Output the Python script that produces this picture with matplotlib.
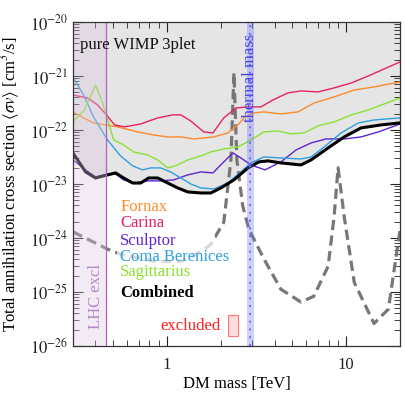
import numpy as np
import matplotlib
matplotlib.use("Agg")
import matplotlib.pyplot as plt
from matplotlib.patches import Rectangle
from matplotlib.ticker import LogLocator, NullFormatter, FixedLocator, FixedFormatter

plt.rcParams['font.family'] = ['Liberation Serif', 'DejaVu Serif']
plt.rcParams['mathtext.fontset'] = 'stix'

# ---------------- data (TeV, cm^3/s) ----------------
comb_m = [0.30, 0.353, 0.401, 0.468, 0.519, 0.575, 0.646, 0.716, 0.793, 0.891, 1.013, 1.152, 1.31,
          1.55, 1.76, 2.0, 2.37, 2.84, 3.26, 3.67, 4.33, 5.6, 6.37, 7.93, 9.75, 12.1, 15.7, 20.0]
comb_sv = [3.75e-23, 1.67e-23, 1.29e-23, 1.47e-23, 1.6e-23, 1.29e-23, 1.04e-23, 1.04e-23, 1.29e-23,
           1.29e-23, 1.04e-23, 8.43e-24, 7.11e-24, 6.8e-24, 6.8e-24, 8.4e-24, 1.19e-23, 1.98e-23,
           2.56e-23, 2.67e-23, 2.45e-23, 2.25e-23, 2.78e-23, 4.64e-23, 7.42e-23, 1.09e-22, 1.24e-22, 1.35e-22]

scl_m = [0.30, 0.353, 0.401, 0.468, 0.519, 0.575, 0.654, 0.783, 0.926, 1.094, 1.31, 1.55, 1.81, 2.0,
         2.34, 2.59, 2.95, 3.53, 4.33, 5.26, 6.37, 7.73, 9.75, 12.1, 15.1, 20.0]
scl_sv = [2.78e-23, 1.82e-23, 1.35e-23, 1.53e-23, 1.53e-23, 1.19e-23, 1.04e-23, 1.14e-23, 1.14e-23,
          1.19e-23, 1.47e-23, 1.67e-23, 1.6e-23, 2.25e-23, 3.75e-23, 3.03e-23, 2.25e-23, 1.82e-23,
          2.56e-23, 4.26e-23, 5.74e-23, 6.81e-23, 6.81e-23, 7.42e-23, 9.18e-23, 1.29e-22]

coma_m = [0.30, 0.344, 0.391, 0.468, 0.553, 0.646, 0.734, 0.814, 0.926, 1.05, 1.2, 1.36, 1.55, 1.83,
          2.19, 2.59, 2.95, 3.48, 4.33, 5.6, 6.37, 7.54, 9.37, 11.7, 14.3, 20.0]
coma_sv = [9.57e-22, 4.45e-22, 1.74e-22, 6.53e-23, 3.3e-23, 2.16e-23, 1.82e-23, 1.98e-23, 1.98e-23,
           1.67e-23, 1.29e-23, 1.0e-23, 8.43e-24, 8.07e-24, 1.04e-23, 1.67e-23, 2.45e-23, 3.16e-23,
           3.03e-23, 2.9e-23, 3.16e-23, 4.84e-23, 8.8e-23, 1.35e-22, 1.53e-22, 1.67e-22]

sgr_m = [0.30, 0.348, 0.401, 0.439, 0.468, 0.506, 0.575, 0.654, 0.783, 0.891, 1.013, 1.152, 1.31, 1.55,
         1.76, 2.08, 2.49, 2.95, 3.48, 4.17, 4.93, 5.82, 6.98, 8.57, 10.7, 13.3, 16.3, 20.0]
sgr_sv = [1.41e-22, 2.35e-22, 6.81e-22, 3.16e-22, 1.6e-22, 6.53e-23, 5.28e-23, 3.91e-23, 3.44e-23,
          2.78e-23, 1.98e-23, 2.25e-23, 2.78e-23, 3.3e-23, 3.91e-23, 4.45e-23, 4.84e-23, 6.53e-23,
          9.18e-23, 9.58e-23, 8.43e-23, 8.8e-23, 1.19e-22, 1.41e-22, 1.9e-22, 2.35e-22, 3.03e-22, 3.91e-22]

fnx_m = [0.30, 0.344, 0.391, 0.456, 0.532, 0.689, 0.846, 1.013, 1.2, 1.42, 1.83, 2.19, 2.49, 2.73,
         3.06, 3.48, 4.33, 5.39, 6.63, 8.57, 11.1, 14.3, 20.0]
fnx_sv = [2.16e-22, 1.67e-22, 1.35e-22, 1.24e-22, 1.14e-22, 9.18e-23, 8.07e-23, 7.42e-23, 7.42e-23,
          6.81e-23, 7.42e-23, 8.8e-23, 1.24e-22, 1.74e-22, 2.06e-22, 2.16e-22, 1.98e-22, 2.16e-22,
          3.16e-22, 4.09e-22, 5.5e-22, 6.26e-22, 7.74e-22]

car_m = [0.30, 0.362, 0.412, 0.462, 0.512, 0.583, 0.716, 0.891, 1.08, 1.2, 1.36, 1.61, 1.81, 2.08,
         2.43, 2.84, 3.35, 3.91, 4.74, 5.6, 6.98, 8.57, 10.7, 13.3, 16.3, 20.0]
car_sv = [4.45e-22, 3.91e-22, 2.9e-22, 1.9e-22, 1.24e-22, 1.14e-22, 1.29e-22, 1.67e-22, 1.9e-22,
          1.9e-22, 1.47e-22, 9.18e-23, 8.8e-23, 1.67e-22, 2.55e-22, 2.67e-22, 2.67e-22, 3.59e-22,
          4.85e-22, 5.28e-22, 5.06e-22, 6.0e-22, 7.42e-22, 1.0e-21, 1.35e-21, 1.82e-21]

th_m = [0.30, 0.468, 0.553, 0.85, 1.2, 1.55, 1.76, 2.08, 2.28, 2.37, 2.46, 2.65, 2.87, 3.48, 4.33,
        5.6, 6.6, 7.94, 8.57, 9.02, 9.75, 11.1, 14.3, 17.2, 20.0]
th_sv = [1.3e-24, 6.2e-25, 5.0e-25, 3.7e-25, 3.7e-25, 5.5e-25, 7.6e-25, 1.95e-24, 2.8e-23, 1.15e-21,
         2.8e-23, 4.0e-24, 1.45e-24, 4.1e-25, 1.12e-25, 6.5e-26, 8.3e-26, 3.0e-25, 2.5e-24, 2.0e-23,
         2.5e-24, 1.5e-25, 2.6e-26, 4.8e-26, 1.45e-24]

lhc_max = 0.46
thermal = (2.8, 3.05)
thermal_c = 2.92

names = ['Fornax', 'Carina', 'Sculptor', 'Coma Berenices', 'Sagittarius']
colors = ['#ff8a2a', '#e8215c', '#5f22d6', '#2f9fdf', '#8ae232']

x_ticks = [1, 10]
x_ticklabels = ['1', '10']
y_exps = [-26, -25, -24, -23, -22, -21, -20]

# ---------------- figure ----------------
fig = plt.figure(figsize=(4.05, 3.99), dpi=100)
ax = fig.add_axes([0.180, 0.133, 0.808, 0.812])
ax.set_xscale('log')
ax.set_yscale('log')
ax.set_xlim(0.3, 20)
ax.set_ylim(1e-26, 1e-20)

ax.fill_between(comb_m, comb_sv, 1e-20, color='#e5e5e5', lw=0, zorder=1)

ax.plot(th_m, th_sv, color='#777777', lw=2.3, dashes=(3.2, 1.7), zorder=2)

ax.add_patch(Rectangle((0.135, 0.14), 0.30, 0.31, transform=ax.transAxes,
                       facecolor='white', alpha=0.7, lw=0, zorder=2.5))

for (m, s, c) in [(fnx_m, fnx_sv, colors[0]), (car_m, car_sv, colors[1]), (scl_m, scl_sv, colors[2]),
                  (coma_m, coma_sv, colors[3]), (sgr_m, sgr_sv, colors[4])]:
    ax.plot(m, s, color=c, lw=1.0, zorder=3)
ax.plot(comb_m, comb_sv, color='black', lw=2.2, zorder=4)

# LHC exclusion
ax.axvspan(0.3, lhc_max, color=(0.866, 0.786, 0.886), alpha=0.35, lw=0, zorder=5)
ax.axvline(lhc_max, color='#b060c0', lw=0.9, zorder=5)
ax.text(0.402, 2.1e-26, 'LHC excl', rotation=90, color='#b48ac8', fontsize=12,
        ha='center', va='bottom', zorder=7)

# thermal mass band
ax.axvspan(thermal[0], thermal[1], color=(0.45, 0.45, 1.0), alpha=0.35, lw=0, zorder=5)
ax.axvline(thermal_c, color='#6a6aff', lw=1.4, ls=(0, (1, 3)), zorder=5)
ax.text(thermal_c, 6e-21, 'thermal mass', rotation=90, color='#4444e6', fontsize=12,
        ha='center', va='top', zorder=7)

ax.text(0.022, 0.93, 'pure WIMP 3plet', transform=ax.transAxes, fontsize=12,
        ha='left', va='center', color='#111111', zorder=7)

ys = [0.43, 0.378, 0.325, 0.276, 0.227]
for n, c, y in zip(names, colors, ys):
    ax.text(0.145, y, n, transform=ax.transAxes, color=c, fontsize=12, ha='left',
            va='center', zorder=7)
ax.text(0.145, 0.162, 'Combined', transform=ax.transAxes, color='black', fontsize=12,
        fontweight='bold', ha='left', va='center', zorder=7)
ax.text(0.452, 0.062, 'excluded', transform=ax.transAxes, color='#ff2020', fontsize=12,
        ha='right', va='center', zorder=7)
ax.add_patch(Rectangle((0.474, 0.03), 0.03, 0.066, transform=ax.transAxes,
                       facecolor='#ffdcdc', edgecolor='#ff7a7a', lw=0.8, zorder=7))

# ticks
ax.xaxis.set_major_locator(FixedLocator(x_ticks))
ax.xaxis.set_major_formatter(FixedFormatter(x_ticklabels))
ax.xaxis.set_minor_locator(FixedLocator([v * d for d in (0.1, 1, 10) for v in range(2, 10)
                                         if 0.3 <= v * d <= 20]))
ax.xaxis.set_minor_formatter(NullFormatter())
ax.yaxis.set_major_locator(FixedLocator([10.0 ** e for e in y_exps]))
ax.yaxis.set_major_formatter(FixedFormatter([r'$10^{%d}$' % e for e in y_exps]))
ax.yaxis.set_minor_locator(FixedLocator([v * 10.0 ** e for e in y_exps[:-1] for v in range(2, 10)]))
ax.yaxis.set_minor_formatter(NullFormatter())
ax.tick_params(which='both', direction='in', top=True, right=True, labelsize=12, colors='#222222')
ax.tick_params(which='major', length=7, width=0.8)
ax.tick_params(which='minor', length=4, width=0.6)
ax.tick_params(axis='x', pad=8)
for sp in ax.spines.values():
    sp.set_color('#333333')
    sp.set_linewidth(0.9)
    sp.set_zorder(8)

ax.set_xlabel('DM mass [TeV]', fontsize=12, labelpad=2)
ax.set_ylabel(r'Total annihilation cross section $\langle\sigma v\rangle$ [cm$^3$/s]',
              fontsize=12, labelpad=0)
ax.yaxis.set_label_coords(-0.155, 0.5)

fig.savefig('out.png', dpi=100)
